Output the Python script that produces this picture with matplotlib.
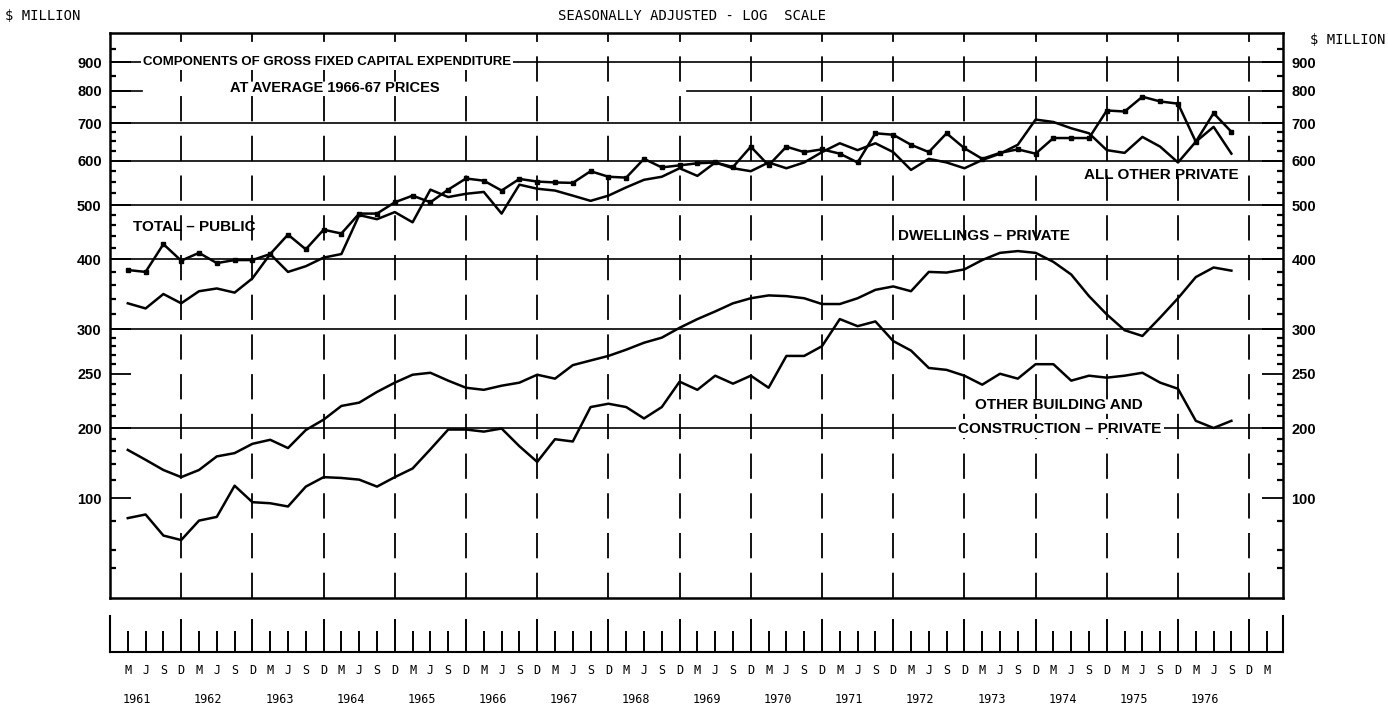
import numpy as np
import pandas as pd
import matplotlib.pyplot as plt
from matplotlib.ticker import FixedLocator, NullFormatter

plt.rcParams['font.family'] = ['Liberation Sans', 'DejaVu Sans']

# quarter ends, March 1961 .. September 1976
periods = pd.period_range('1961Q1', '1976Q3', freq='Q')
quarters = np.asarray(periods.year + periods.quarter / 4.0, dtype=float)

# $ million, average 1966-67 prices
total_public = [383, 380, 426, 398, 411, 394, 399, 399, 409, 443,
                417, 452, 445, 483, 483, 506, 520, 506, 533, 558,
                553, 531, 557, 551, 549, 548, 575, 562, 560, 605,
                584, 589, 594, 596, 585, 636, 589, 636, 622, 629,
                618, 596, 672, 668, 641, 622, 672, 632, 605, 620,
                629, 618, 659, 659, 659, 738, 735, 781, 766, 759,
                649, 730, 676]
all_other_private = [334, 327, 347, 334, 351, 355, 349, 370, 409, 380,
                     389, 403, 409, 480, 472, 486, 466, 533, 517, 524,
                     528, 483, 544, 535, 531, 520, 509, 520, 538, 555,
                     562, 582, 564, 596, 582, 575, 596, 582, 596, 622,
                     645, 627, 645, 622, 578, 605, 596, 582, 602, 618,
                     641, 711, 704, 686, 672, 627, 620, 662, 636, 596,
                     649, 690, 618]
dwellings_private = [161, 146, 132, 123, 132, 151, 156, 171, 178, 164,
                     196, 207, 219, 222, 232, 241, 249, 251, 243, 236,
                     234, 238, 241, 249, 245, 259, 264, 269, 276, 284,
                     290, 302, 313, 323, 334, 341, 345, 344, 341, 333,
                     333, 341, 353, 358, 351, 380, 379, 384, 399, 411,
                     414, 411, 396, 376, 344, 319, 299, 292, 315, 341,
                     372, 387, 382]
other_building_private = [82, 85, 69, 66, 80, 83, 113, 96, 95, 92,
                          112, 123, 122, 120, 112, 123, 134, 162, 197, 197,
                          193, 199, 167, 143, 179, 175, 218, 221, 218, 208,
                          218, 242, 234, 248, 240, 248, 236, 269, 269, 280,
                          313, 304, 310, 286, 275, 256, 254, 248, 239, 250,
                          245, 260, 260, 243, 248, 246, 248, 251, 241, 235,
                          206, 200, 206]

ytick_values = [900, 800, 700, 600, 500, 400, 300, 250, 200, 100]
ytick_labels = ['900', '800', '700', '600', '500', '400', '300', '250', '200', '100']
minor_values = [950, 850, 750, 650, 625, 675, 550, 525, 575, 420, 440, 460, 480,
                320, 340, 360, 380, 260, 270, 280, 290, 210, 220, 230, 240,
                120, 140, 160, 180, 80, 60, 50]
grid_values = [900, 700, 600, 500, 400, 300, 200]
years = list(range(1961, 1977))

# log scale, compressed below 200 (as on the original chart)
LN200 = np.log(200.0)
K = 0.4156


def fwd(v):
    u = np.log(np.maximum(np.asarray(v, dtype=float), 1e-6))
    return np.where(u >= LN200, u, LN200 - (LN200 - u) * K)


def inv(u):
    u = np.asarray(u, dtype=float)
    return np.where(u >= LN200, np.exp(np.minimum(u, 50)),
                    np.exp(LN200 - (LN200 - np.minimum(u, LN200)) / K))


fig = plt.figure(figsize=(13.88, 7.12), dpi=100)
ax = fig.add_axes([110 / 1388, 114 / 712, 1173 / 1388, 565 / 712])
ax.set_yscale('function', functions=(fwd, inv))
x_right = 1961 + 1173 / 71.2
ax.set_xlim(1961.0, x_right)
ax.set_ylim(37.2, 1015)

for v in grid_values:
    ax.axhline(v, color='black', lw=1.2, zorder=1)
ax.axhline(800, xmax=0.027, color='black', lw=1.2, zorder=1)
ax.axhline(800, xmin=0.492, color='black', lw=1.2, zorder=1)
for yr in range(1962, 1978):
    ax.axvline(yr, color='black', lw=1.3, ls=(0, (14, 8)), zorder=1)

ax.plot(quarters, total_public, color='black', lw=1.8, marker='s', ms=3.2, zorder=3)
ax.plot(quarters, all_other_private, color='black', lw=1.8, zorder=3)
ax.plot(quarters, dwellings_private, color='black', lw=1.8, zorder=3)
ax.plot(quarters, other_building_private, color='black', lw=1.8, zorder=3)

ax.set_yticks(ytick_values, ytick_labels)
ax.yaxis.set_minor_locator(FixedLocator(minor_values))
ax.yaxis.set_minor_formatter(NullFormatter())
ax.tick_params(axis='y', which='major', direction='in', length=15, width=1.3,
               left=True, right=True, labelleft=True, labelright=True,
               labelsize=10.5, pad=6)
ax.tick_params(axis='y', which='minor', direction='in', length=4, width=1.6,
               left=True, right=True)
plt.setp(ax.get_yticklabels(), fontweight='bold')
ax.tick_params(axis='x', which='both', bottom=False, labelbottom=False)
for s in ax.spines.values():
    s.set_linewidth(1.8)

box = dict(facecolor='white', edgecolor='none', pad=1.5)
ax.text(1961.46, 900, 'COMPONENTS OF GROSS FIXED CAPITAL EXPENDITURE', fontsize=9.5,
        fontweight='bold', ha='left', va='center', bbox=box, zorder=4)
ax.text(1964.16, 808, 'AT AVERAGE 1966-67 PRICES', fontsize=10.5, fontweight='bold',
        ha='center', va='center', zorder=4)
ax.text(1961.32, 458, 'TOTAL – PUBLIC', fontsize=11, fontweight='bold',
        ha='left', va='center', zorder=4)
ax.text(1976.85, 565, 'ALL OTHER PRIVATE', fontsize=11, fontweight='bold',
        ha='right', va='center', zorder=4)
ax.text(1972.07, 440, 'DWELLINGS – PRIVATE', fontsize=11, fontweight='bold',
        ha='left', va='center', zorder=4)
ax.text(1974.33, 220, 'OTHER BUILDING AND', fontsize=11, fontweight='bold',
        ha='center', va='center', zorder=4)
ax.text(1974.34, 199, 'CONSTRUCTION – PRIVATE', fontsize=11, fontweight='bold',
        ha='center', va='center', bbox=box, zorder=4)

# quarter / year strip under the chart
axs = fig.add_axes([110 / 1388, 60 / 712, 1173 / 1388, 36 / 712])
axs.set_xlim(1961.0, x_right)
axs.set_ylim(0, 1)
axs.set_yticks([])
axs.spines['top'].set_visible(False)
for s in ['left', 'right', 'bottom']:
    axs.spines[s].set_linewidth(1.5)
axs.set_xticks(list(range(1961, 1978)), [''] + ['D'] * 16)
minor_pos = [y + q for y in years for q in (0.25, 0.5, 0.75)] + [1977.25]
minor_lab = ['M', 'J', 'S'] * len(years) + ['M']
axs.set_xticks(minor_pos, minor_lab, minor=True)
axs.tick_params(axis='x', which='major', direction='in', length=24, width=1.4,
                pad=9, labelsize=8.5, labelfontfamily='DejaVu Sans Mono')
axs.tick_params(axis='x', which='minor', direction='in', length=15, width=1.4,
                pad=9, labelsize=8.5, labelfontfamily='DejaVu Sans Mono')
for yr in years:
    axs.text(yr + 0.38, -1.33, str(yr), transform=axs.get_xaxis_transform(),
             ha='center', va='center', fontsize=8.5, family='DejaVu Sans Mono')

fig.text(5 / 1388, 1 - 16 / 712, '$ MILLION', ha='left', va='center',
         fontsize=10, family='DejaVu Sans Mono')
fig.text(692 / 1388, 1 - 16 / 712, 'SEASONALLY ADJUSTED - LOG  SCALE', ha='center',
         va='center', fontsize=10, family='DejaVu Sans Mono')
fig.text(1310 / 1388, 1 - 40 / 712, '$ MILLION', ha='left', va='center',
         fontsize=10, family='DejaVu Sans Mono')

fig.savefig('out.png', dpi=100)
